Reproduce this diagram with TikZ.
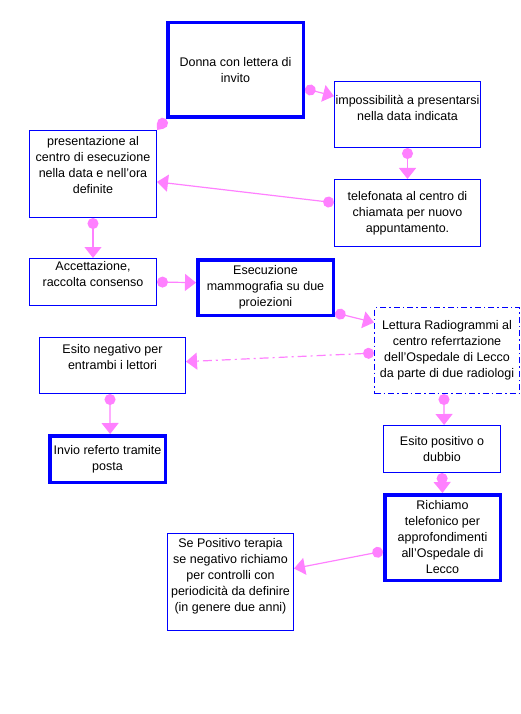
\documentclass[tikz,border=0pt]{standalone}
\usepackage{fontspec}
\setmainfont{Liberation Sans}
\usetikzlibrary{arrows.meta}
\definecolor{linkpink}{RGB}{255,128,255}

\begin{document}
\begin{tikzpicture}
[x=1pt,y=-1pt,font=\fontsize{12.5}{16}\selectfont]
\tikzset{box/.style={draw=blue,line width=1pt,align=center,inner sep=0pt},
  bbox/.style={box,line width=3.5pt},
  dbox/.style={box,dash pattern=on 6pt off 3pt on 1.5pt off 3pt},
  uptext/.style={text depth=#1},
  link/.style={draw=linkpink,line width=1.2pt,{Circle[length=11pt]}-{Triangle[length=11pt,width=17pt]}}}
\useasboundingbox (0,0) rectangle (521,714);
\node [bbox,minimum width=135.5,minimum height=94.5] (n1) at (235.5,70) {Donna con lettera di\\invito};
\node [box,minimum width=146,minimum height=66,uptext=14pt] (n2) at (407.5,114.5) {impossibilità a presentarsi\\nella data indicata};
\node [box,minimum width=146,minimum height=67] (n3) at (407.5,213) {telefonata al centro di\\chiamata per nuovo\\appuntamento.};
\node [box,minimum width=127,minimum height=87,uptext=18pt] (n4) at (93,174) {presentazione al\\centro di esecuzione\\nella data e nell'ora\\definite};
\node [box,minimum width=127,minimum height=47,uptext=16pt] (n5) at (93,282) {Accettazione,\\raccolta consenso};
\node [bbox,minimum width=135.5,minimum height=55.5] (n6) at (265.5,287.5) {Esecuzione\\mammografia su due\\proiezioni};
\node [dbox,minimum width=145,minimum height=86] (n7) at (447,350.5) {Lettura Radiogrammi al\\centro referrtazione\\dell'Ospedale di Lecco\\da parte di due radiologi};
\node [box,minimum width=146,minimum height=56,uptext=18pt] (n8) at (112.5,365.5) {Esito negativo per\\entrambi i lettori};
\node [bbox,minimum width=115.5,minimum height=46.5] (n9) at (107.5,459) {Invio referto tramite\\posta};
\node [box,minimum width=117,minimum height=47] (n10) at (442,449) {Esito positivo o\\dubbio};
\node [bbox,minimum width=115.5,minimum height=85.5] (n11) at (442.5,537.5) {Richiamo\\telefonico per\\approfondimenti\\all'Ospedale di\\Lecco};
\node [box,minimum width=126,minimum height=97,uptext=14pt] (n12) at (230.5,582) {Se Positivo terapia\\se negativo richiamo\\per controlli con\\periodicità da definire\\(in genere due anni)};

\foreach \from/\to in {n1.-15/n2.166,n2.south/n3.north,n3.172/n4.-7,n4.south/n5.north,n5.east/n6.176,n6.-20/n7.159,n8.-95/n9.84,n7.-94/n10.85,n10.south/n11.north,n11.193/n12.12}
	\draw [link] (\from) -- (\to);
\draw [link,{Circle[length=11pt]}-{Triangle[length=5pt,width=8pt]}] (n1.south west) -- (n4.north east);
\draw [link,dash pattern=on 9pt off 4pt on 2pt off 4pt] (n7.182) -- (n8.3);

\end{tikzpicture}
\end{document}
